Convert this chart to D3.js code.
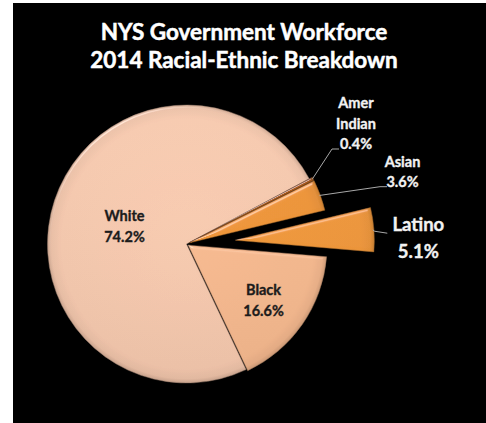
<!DOCTYPE html>
<html>
<head>
<meta charset="utf-8">
<script src="https://cdn.jsdelivr.net/npm/d3@7"></script>
<style>
  html, body { margin: 0; padding: 0; background: #fff; }
  svg { display: block; }
  text { font-family: Lato, "Open Sans", "DejaVu Sans", sans-serif; font-weight: 700; }
</style>
</head>
<body>
<svg id="chart" width="486" height="423"></svg>
<script>
// Workforce shares by group, in clockwise drawing order
const categories = ["Black", "White", "Amer Indian", "Asian", "Latino"];
const shares = [16.6, 74.2, 0.4, 3.6, 5.1];
const labelLines = [["Black"], ["White"], ["Amer", "Indian"], ["Asian"], ["Latino"]];
const titleLines = ["NYS Government Workforce", "2014 Racial-Ethnic Breakdown"];

// Slice styling
const sliceColors = {
  "Black": "#f7b98e",
  "White": "#f7c9ae",
  "Amer Indian": "#a85814",
  "Asian": "#ef9436",
  "Latino": "#f09638"
};
const explode = { "Black": 2, "White": 0, "Amer Indian": 3.5, "Asian": 3.5, "Latino": 49 };

const W = 486, H = 423;
const cx = 186.5, cy = 244, R = 139;
const firstSliceAngle = 94.8 * Math.PI / 180;

const svg = d3.select("#chart");
const defs = svg.append("defs");

// soft bevel highlight on slice edges
const bevel = defs.append("filter").attr("id", "bevel")
  .attr("x", "-10%").attr("y", "-10%").attr("width", "120%").attr("height", "120%");
bevel.append("feGaussianBlur").attr("in", "SourceAlpha").attr("stdDeviation", 1.4).attr("result", "blur");
const spec = bevel.append("feSpecularLighting").attr("in", "blur")
  .attr("surfaceScale", 3).attr("specularConstant", 0.35).attr("specularExponent", 24)
  .attr("lighting-color", "#ffffff").attr("result", "spec");
spec.append("feDistantLight").attr("azimuth", 235).attr("elevation", 25);
bevel.append("feComposite").attr("in", "spec").attr("in2", "SourceAlpha").attr("operator", "in").attr("result", "specIn");
bevel.append("feComposite").attr("in", "SourceGraphic").attr("in2", "specIn")
  .attr("operator", "arithmetic").attr("k1", 0).attr("k2", 1).attr("k3", 1).attr("k4", 0);

// frame
svg.append("rect").attr("width", W).attr("height", H).attr("fill", "#fff");
svg.append("rect").attr("x", 13).attr("y", 3).attr("width", W - 13).attr("height", H - 3).attr("fill", "#000");

// title
const title = svg.append("text").attr("text-anchor", "middle").attr("fill", "#ffffff")
  .attr("font-size", 22.5).attr("stroke", "#ffffff").attr("stroke-width", 0.5);
titleLines.forEach((t, i) => {
  title.append("tspan").attr("x", 244).attr("y", 40 + i * 28).text(t);
});

const data = categories.map((c, i) => ({ name: c, value: shares[i], lines: labelLines[i] }));

const pie = d3.pie().sort(null).value(d => d.value)
  .startAngle(firstSliceAngle).endAngle(firstSliceAngle + 2 * Math.PI);
const arcs = pie(data);
const arc = d3.arc().innerRadius(0).outerRadius(R);

function offset(d) {
  const mid = (d.startAngle + d.endAngle) / 2;
  const e = explode[d.data.name] || 0;
  return [Math.sin(mid) * e, -Math.cos(mid) * e];
}

// radial gradients darkening each slice toward its rim
arcs.forEach((d, i) => {
  const c = d3.color(sliceColors[d.data.name]);
  const g = defs.append("radialGradient").attr("id", "grad" + i)
    .attr("gradientUnits", "userSpaceOnUse").attr("cx", 0).attr("cy", 0).attr("r", R);
  g.append("stop").attr("offset", "0%").attr("stop-color", c.brighter(0.05));
  g.append("stop").attr("offset", "90%").attr("stop-color", c);
  g.append("stop").attr("offset", "97%").attr("stop-color", c.darker(0.12));
  g.append("stop").attr("offset", "100%").attr("stop-color", c.darker(0.45));
});

const pieG = svg.append("g").attr("transform", `translate(${cx},${cy})`);

// vertical shading across the pie (light top, slightly darker bottom)
const shade = defs.append("linearGradient").attr("id", "shade")
  .attr("gradientUnits", "userSpaceOnUse").attr("x1", 0).attr("y1", -R).attr("x2", 0).attr("y2", R);
shade.append("stop").attr("offset", "0%").attr("stop-color", "#fff").attr("stop-opacity", 0.03);
shade.append("stop").attr("offset", "100%").attr("stop-color", "#000").attr("stop-opacity", 0.05);

const slices = pieG.selectAll("g.slice").data(arcs).join("g")
  .attr("class", "slice")
  .attr("transform", d => `translate(${offset(d)})`);

slices.append("path")
  .attr("d", arc)
  .attr("fill", (d, i) => `url(#grad${i})`)
  .attr("stroke", d => d3.color(sliceColors[d.data.name]).darker(1.3))
  .attr("stroke-opacity", 0.6)
  .attr("stroke-width", 0.8)
  .attr("filter", "url(#bevel)");

slices.append("path")
  .attr("d", arc)
  .attr("fill", "url(#shade)");

// inside labels for the two large slices
const inside = { "White": 0.47, "Black": 0.66 };
arcs.filter(d => inside[d.data.name] !== undefined).forEach(d => {
  const mid = (d.startAngle + d.endAngle) / 2;
  const rr = R * inside[d.data.name];
  const [ox, oy] = offset(d);
  const x = ox + Math.sin(mid) * rr, y = oy - Math.cos(mid) * rr;
  const t = pieG.append("text").attr("text-anchor", "middle").attr("fill", "#1c1c1c")
    .attr("font-size", 14.5).attr("stroke", "#1c1c1c").attr("stroke-width", 0.35);
  t.append("tspan").attr("x", x).attr("y", y - 2).text(d.data.lines[0]);
  t.append("tspan").attr("x", x).attr("y", y + 19).text(d3.format(".1f")(d.data.value) + "%");
});

// callout labels for the small slices: leader from rim, elbow, then text block
const callouts = {
  "Amer Indian": { elbow: [145.5, -95], run: 7, rise: 0, textDx: 17, lineY: [-41, -20, 0], size: 14.5 },
  "Asian":       { elbow: [193.5, -57.3], run: 7, rise: 0, textDx: 15.5, lineY: [-20, 0], size: 14.5 },
  "Latino":      { elbow: [187.8, -12.8], run: 13, rise: 2, textDx: 31, lineY: [0, 27], size: 18.5 }
};
arcs.filter(d => callouts[d.data.name]).forEach(d => {
  const c = callouts[d.data.name];
  const mid = (d.startAngle + d.endAngle) / 2;
  const [ox, oy] = offset(d);
  const start = [ox + Math.sin(mid) * (R - 1), oy - Math.cos(mid) * (R - 1)];
  const end = [c.elbow[0] + c.run, c.elbow[1] + c.rise];
  pieG.append("path")
    .attr("d", d3.line()([start, c.elbow, end]))
    .attr("fill", "none").attr("stroke", "#a8a8a8").attr("stroke-width", 1);
  const tx = end[0] + c.textDx;
  const t = pieG.append("text").attr("text-anchor", "middle").attr("fill", "#f2f2f2")
    .attr("font-size", c.size).attr("stroke", "#f2f2f2").attr("stroke-width", 0.35);
  const lines = d.data.lines.concat([d3.format(".1f")(d.data.value) + "%"]);
  lines.forEach((s, i) => {
    t.append("tspan").attr("x", tx).attr("y", c.elbow[1] + c.lineY[i]).text(s);
  });
});
</script>
</body>
</html>
